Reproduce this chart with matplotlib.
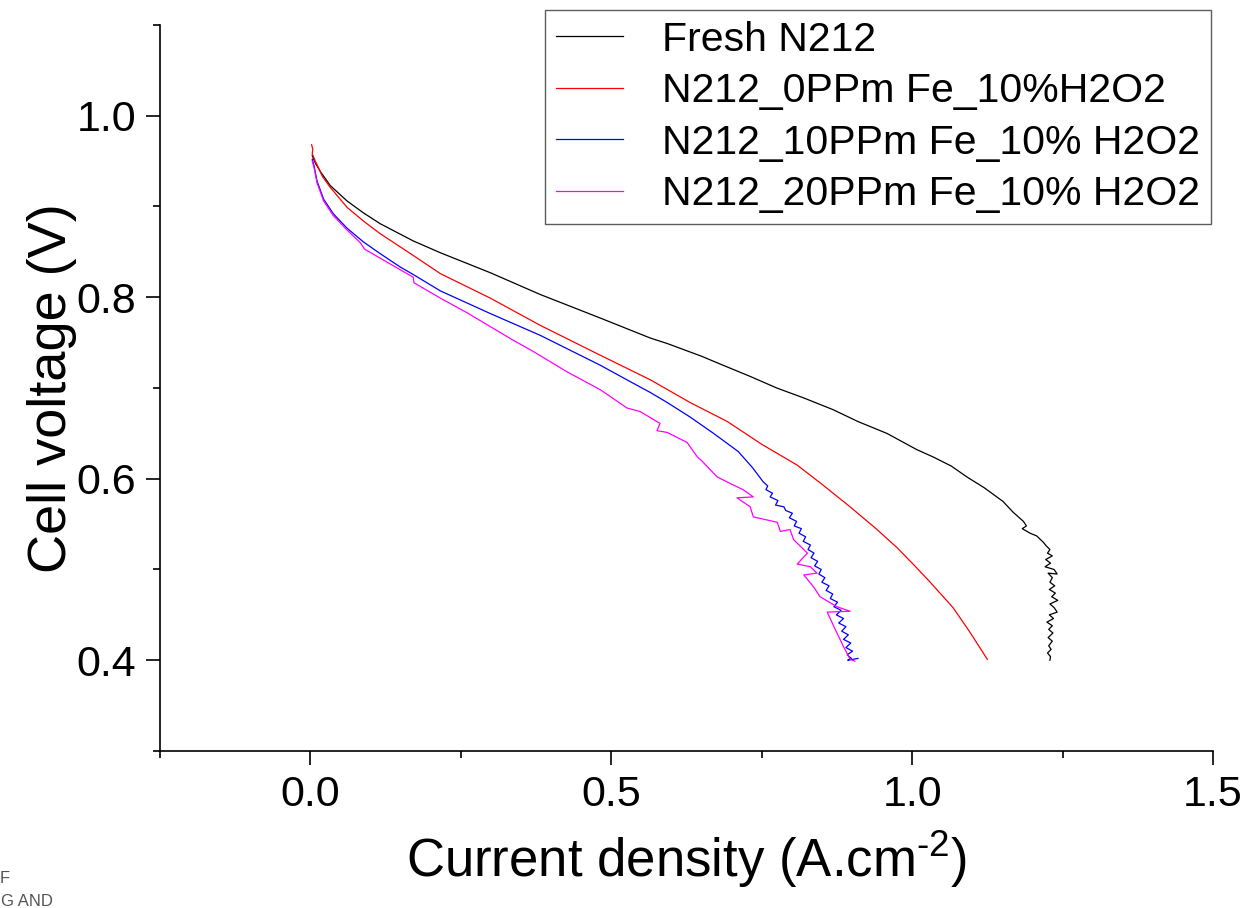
import matplotlib
matplotlib.use("Agg")
import matplotlib.pyplot as plt
from matplotlib.ticker import MultipleLocator

plt.rcParams['font.family'] = ['Liberation Sans', 'DejaVu Sans']
plt.rcParams['axes.unicode_minus'] = False
plt.rcParams['mathtext.fontset'] = 'custom'
plt.rcParams['mathtext.rm'] = 'Liberation Sans'

# Fresh N212
fresh_x = [0.003, 0.008, 0.017, 0.033, 0.061, 0.088, 0.116, 0.171, 0.216, 0.299, 0.382,
           0.482, 0.565, 0.593, 0.650, 0.686, 0.730, 0.775, 0.820, 0.869, 0.910, 0.958,
           1.008, 1.035, 1.065, 1.091, 1.120, 1.151, 1.168, 1.185, 1.190, 1.183, 1.196,
           1.207, 1.218, 1.223, 1.229, 1.225, 1.233, 1.222, 1.230, 1.221, 1.236, 1.241,
           1.226, 1.233, 1.229, 1.237, 1.228, 1.238, 1.232, 1.242, 1.229, 1.236, 1.241,
           1.228, 1.235, 1.224, 1.233, 1.227, 1.234, 1.226, 1.233, 1.227, 1.231, 1.225,
           1.230, 1.229]
fresh_y = [0.956, 0.948, 0.938, 0.923, 0.906, 0.893, 0.881, 0.862, 0.849, 0.827, 0.803,
           0.777, 0.755, 0.749, 0.735, 0.725, 0.713, 0.700, 0.689, 0.676, 0.663, 0.650,
           0.632, 0.624, 0.614, 0.602, 0.590, 0.575, 0.563, 0.553, 0.548, 0.545, 0.540,
           0.537, 0.530, 0.526, 0.522, 0.518, 0.515, 0.511, 0.507, 0.503, 0.500, 0.495,
           0.496, 0.491, 0.486, 0.482, 0.478, 0.474, 0.470, 0.466, 0.462, 0.458, 0.453,
           0.450, 0.446, 0.442, 0.438, 0.434, 0.430, 0.425, 0.421, 0.416, 0.412, 0.408,
           0.404, 0.400]

# N212_0PPm Fe_10%H2O2
fe0_x = [0.002, 0.004, 0.003, 0.005, 0.008, 0.011, 0.020, 0.033, 0.061, 0.088, 0.116,
         0.171, 0.216, 0.299, 0.382, 0.482, 0.565, 0.631, 0.693, 0.750, 0.809, 0.850,
         0.897, 0.940, 0.975, 1.003, 1.030, 1.068, 1.096, 1.125]
fe0_y = [0.968, 0.963, 0.958, 0.955, 0.950, 0.946, 0.933, 0.921, 0.899, 0.884, 0.870,
         0.846, 0.826, 0.799, 0.769, 0.736, 0.709, 0.684, 0.663, 0.638, 0.615, 0.594,
         0.569, 0.545, 0.524, 0.505, 0.486, 0.458, 0.431, 0.401]

# N212_10PPm Fe_10% H2O2
fe10_x = [0.003, 0.006, 0.011, 0.022, 0.038, 0.061, 0.088, 0.116, 0.150, 0.171, 0.216,
          0.299, 0.382, 0.482, 0.526, 0.565, 0.593, 0.631, 0.670, 0.711, 0.735, 0.752,
          0.760, 0.757, 0.768, 0.764, 0.777, 0.773, 0.787, 0.790, 0.801, 0.796, 0.808,
          0.804, 0.816, 0.812, 0.823, 0.819, 0.831, 0.827, 0.837, 0.832, 0.843, 0.838,
          0.849, 0.845, 0.855, 0.850, 0.862, 0.857, 0.868, 0.864, 0.876, 0.870, 0.882,
          0.874, 0.886, 0.878, 0.890, 0.883, 0.894, 0.886, 0.898, 0.890, 0.901, 0.892,
          0.899, 0.893, 0.910]
fe10_y = [0.952, 0.945, 0.928, 0.908, 0.892, 0.876, 0.861, 0.848, 0.833, 0.825, 0.807,
          0.782, 0.758, 0.725, 0.709, 0.695, 0.684, 0.668, 0.650, 0.630, 0.612, 0.597,
          0.592, 0.588, 0.584, 0.580, 0.576, 0.571, 0.569, 0.565, 0.562, 0.557, 0.553,
          0.548, 0.545, 0.540, 0.536, 0.531, 0.527, 0.522, 0.518, 0.513, 0.509, 0.504,
          0.500, 0.495, 0.491, 0.486, 0.482, 0.477, 0.473, 0.468, 0.464, 0.459, 0.455,
          0.450, 0.446, 0.441, 0.437, 0.432, 0.428, 0.423, 0.419, 0.414, 0.410, 0.406,
          0.402, 0.400, 0.402]

# N212_20PPm Fe_10% H2O2
fe20_x = [0.003, 0.006, 0.011, 0.022, 0.038, 0.061, 0.083, 0.090, 0.116, 0.150, 0.171,
          0.172, 0.216, 0.260, 0.336, 0.371, 0.426, 0.482, 0.526, 0.548, 0.581, 0.576,
          0.593, 0.626, 0.643, 0.650, 0.676, 0.700, 0.719, 0.736, 0.709, 0.731, 0.736,
          0.776, 0.781, 0.797, 0.803, 0.826, 0.809, 0.831, 0.842, 0.820, 0.836, 0.847,
          0.875, 0.897, 0.859, 0.870, 0.886, 0.897, 0.905]
fe20_y = [0.950, 0.943, 0.926, 0.906, 0.890, 0.874, 0.860, 0.853, 0.843, 0.830, 0.822,
          0.816, 0.799, 0.783, 0.753, 0.740, 0.718, 0.698, 0.678, 0.674, 0.661, 0.653,
          0.651, 0.640, 0.624, 0.620, 0.602, 0.594, 0.588, 0.580, 0.579, 0.569, 0.558,
          0.552, 0.542, 0.544, 0.533, 0.518, 0.506, 0.503, 0.496, 0.494, 0.481, 0.470,
          0.459, 0.454, 0.453, 0.437, 0.415, 0.401, 0.399]

fig = plt.figure(figsize=(12.46, 9.08), dpi=100)
ax = fig.add_axes([0.1284, 0.1729, 0.8451, 0.7996])

ax.plot(fresh_x, fresh_y, color='black', lw=0.9, label='Fresh N212')
ax.plot(fe0_x, fe0_y, color='red', lw=0.9, label='N212_0PPm Fe_10%H2O2')
ax.plot(fe10_x, fe10_y, color='blue', lw=0.9, label='N212_10PPm Fe_10% H2O2')
ax.plot(fe20_x, fe20_y, color='magenta', lw=0.9, label='N212_20PPm Fe_10% H2O2')

ax.set_xlim(-0.25, 1.5)
ax.set_ylim(0.3, 1.1)
ax.xaxis.set_minor_locator(MultipleLocator(0.25))
ax.yaxis.set_minor_locator(MultipleLocator(0.1))
ax.set_xticks([0.0, 0.5, 1.0, 1.5])
ax.set_yticks([0.4, 0.6, 0.8, 1.0])
ax.set_xticklabels(['0.0', '0.5', '1.0', '1.5'])
ax.set_yticklabels(['0.4', '0.6', '0.8', '1.0'])

for side in ['top', 'right']:
    ax.spines[side].set_visible(False)
for side in ['left', 'bottom']:
    ax.spines[side].set_linewidth(1.2)
ax.tick_params(which='major', direction='out', length=10, width=1.2, labelsize=31, pad=7)
ax.tick_params(which='minor', direction='out', length=5, width=1.2)

ax.set_xlabel('Current density (A.cm$^{\\text{-2}}$)', fontsize=38, labelpad=10)
ax.set_ylabel('Cell voltage (V)', fontsize=39, labelpad=0)

leg = fig.legend(loc='upper left', bbox_to_anchor=(0.4374, 0.989), fontsize=29.5,
                 frameon=True, fancybox=False, handlelength=1.65, handletextpad=0.95,
                 labelspacing=0.33, borderpad=0.26, borderaxespad=0)
leg.get_frame().set_edgecolor('#333333')
leg.get_frame().set_linewidth(1.0)

fig.text(0.0, 0.028, 'F', fontsize=12, color='#555555')
fig.text(0.001, 0.002, 'G AND', fontsize=12, color='#555555')

fig.savefig('out.png', dpi=100)
